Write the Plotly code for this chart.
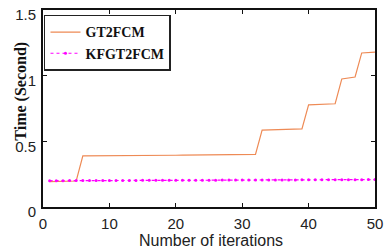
import plotly.graph_objects as go

iterations = list(range(1, 51))
gt2fcm = [0.193, 0.194, 0.195, 0.196, 0.198,
          0.389, 0.389, 0.390, 0.390, 0.390, 0.391, 0.391, 0.392, 0.392, 0.392,
          0.393, 0.393, 0.394, 0.394, 0.394, 0.395, 0.395, 0.396, 0.396, 0.397,
          0.397, 0.397, 0.398, 0.398, 0.399, 0.399, 0.400,
          0.585, 0.587, 0.588, 0.590, 0.591, 0.593, 0.595,
          0.778, 0.780, 0.782, 0.784, 0.786,
          0.975, 0.982, 0.990,
          1.173, 1.177, 1.180]
kfgt2fcm = [0.200, 0.200, 0.200, 0.201, 0.201, 0.201, 0.201, 0.201, 0.202, 0.202,
            0.202, 0.202, 0.202, 0.202, 0.203, 0.203, 0.203, 0.203, 0.203, 0.203,
            0.204, 0.204, 0.204, 0.204, 0.204, 0.204, 0.205, 0.205, 0.205, 0.205,
            0.205, 0.205, 0.206, 0.206, 0.206, 0.206, 0.206, 0.206, 0.207, 0.207,
            0.207, 0.207, 0.207, 0.208, 0.208, 0.208, 0.208, 0.208, 0.209, 0.209]
x_ticks = [0, 10, 20, 30, 40, 50]
y_ticks = [0, 0.5, 1, 1.5]
y_ticktext = ["0", "0.5", "1", "1.5"]
x_title = "Number of iterations"
y_title = "<b>Time (Second)</b>"

fig = go.Figure()
fig.add_trace(go.Scatter(x=iterations, y=gt2fcm, mode="lines", name="<b>GT2FCM</b>",
                         line=dict(color="#EE8A55", width=1.2)))
fig.add_trace(go.Scatter(x=iterations, y=kfgt2fcm, mode="lines+markers", name="<b>KFGT2FCM</b>",
                         line=dict(color="#FF00FF", width=1.2, dash="dot"),
                         marker=dict(color="#FF00FF", size=3)))

axis_common = dict(showline=True, linecolor="#111111", linewidth=2, mirror="ticks",
                   ticks="inside", ticklen=4, tickwidth=1, tickcolor="#111111",
                   showgrid=False, zeroline=False, automargin=False,
                   ticklabeloverflow="allow",
                   tickfont=dict(family="Liberation Sans, Arial", size=15, color="#222222"))

fig.update_layout(
    width=386, height=248,
    margin=dict(l=43, r=11, t=10, b=41),
    paper_bgcolor="white", plot_bgcolor="white",
    showlegend=True,
    legend=dict(x=0.003, y=0.975, xanchor="left", yanchor="top",
                bordercolor="#222222", borderwidth=1.5, bgcolor="white",
                font=dict(family="Liberation Serif, Times New Roman", size=14, color="#111111"),
                itemwidth=30, tracegroupgap=0),
    xaxis=dict(range=[0, 50], tickvals=x_ticks, ticklabelstandoff=2, **axis_common),
    yaxis=dict(range=[0, 1.5], tickvals=y_ticks, ticktext=y_ticktext,
               ticklabelshift=5, ticklabelstandoff=2, **axis_common),
    annotations=[
        dict(text=x_title, xref="paper", yref="paper", x=0.506, y=-0.17,
             xanchor="center", yanchor="middle", showarrow=False,
             font=dict(family="Liberation Sans, Arial", size=16, color="#222222")),
        dict(text=y_title, xref="paper", yref="paper", x=-0.069, y=0.586,
             xanchor="center", yanchor="middle", showarrow=False, textangle=-90,
             font=dict(family="Liberation Serif, Times New Roman", size=16, color="#111111")),
    ],
)

fig.write_html("out.html")
